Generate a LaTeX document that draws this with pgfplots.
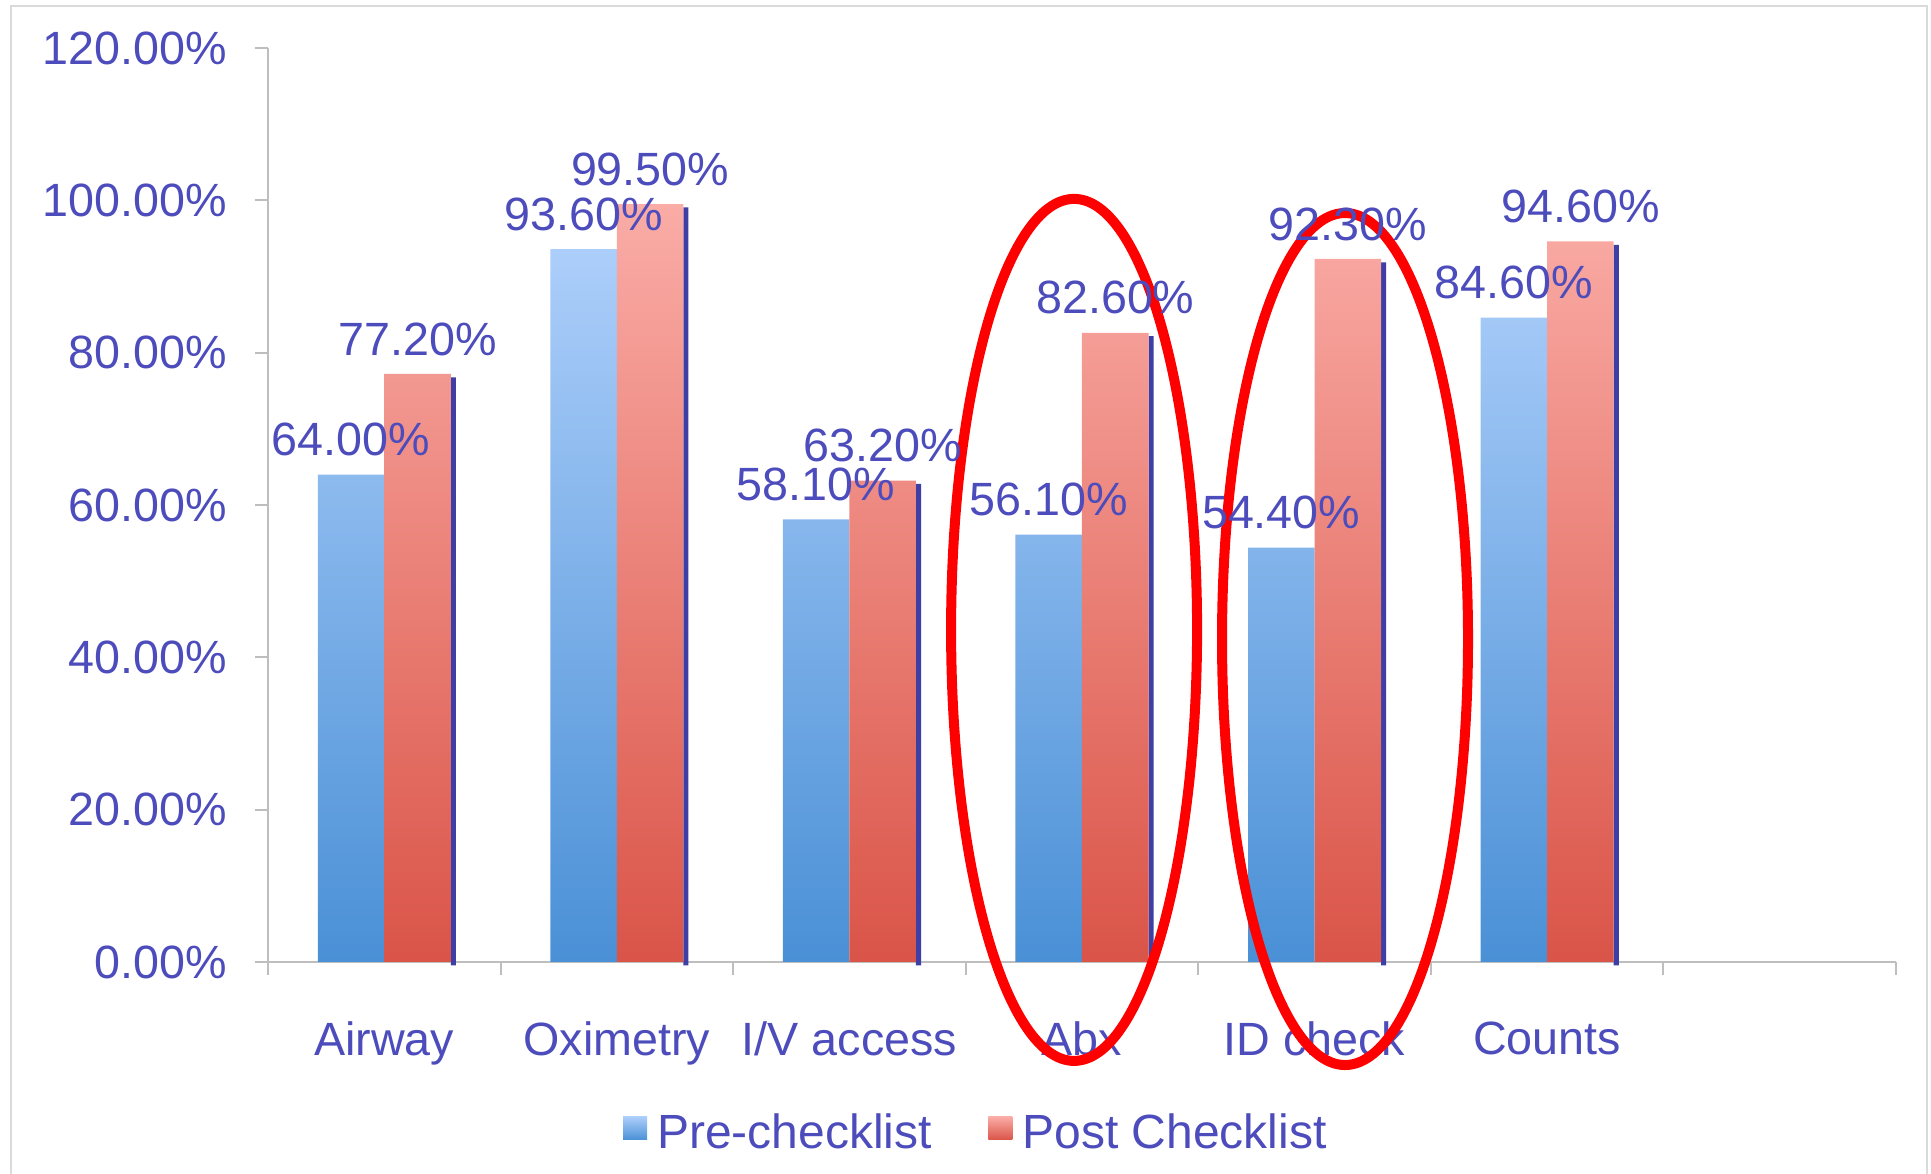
\documentclass[border=0pt]{standalone}
\usepackage{pgfplots}
\pgfplotsset{compat=1.18}
\usepackage{pgfplotstable}
\usepackage{fontspec}
\setmainfont{Liberation Sans}

\definecolor{labelblue}{RGB}{76,76,188}
\definecolor{axisgray}{RGB}{190,190,190}
\definecolor{framegray}{RGB}{218,218,218}
\definecolor{preTop}{RGB}{172,206,250}
\definecolor{preBot}{RGB}{74,144,214}
\definecolor{postTop}{RGB}{250,172,166}
\definecolor{postBot}{RGB}{218,84,72}
\definecolor{shadowblue}{RGB}{62,62,165}

% compliance rates (%) before and after the checklist
\pgfplotstableread{
x pre  post
0 64.0 77.2
1 93.6 99.5
2 58.1 63.2
3 56.1 82.6
4 54.4 92.3
5 84.6 94.6
}\ratetable

\newcommand{\lblfont}{\fontsize{14}{16}\selectfont}

\begin{document}
\begin{tikzpicture}
\useasboundingbox (0,0) rectangle (579.3pt,352.2pt);
\draw[framegray, line width=0.6pt] (3.3pt,-10pt) rectangle (578.1pt,350.4pt);
\begin{axis}[
  at={(80.4pt,63.6pt)}, anchor=south west,
  scale only axis, width=488.4pt, height=274.2pt,
  xmin=-0.5, xmax=6.5, ymin=0, ymax=120,
  axis x line*=bottom, axis y line*=left,
  axis line style={axisgray, line width=0.6pt, -},
  tick style={axisgray, line width=0.6pt},
  tick align=outside,
  major tick length=3.8pt,
  ytick={0,20,...,120},
  xtick={-0.5,0.5,...,6.5},
  xticklabels={},
  extra x ticks={0,1,2,3,4,5},
  extra x tick labels={Airway,Oximetry,I/V access,Abx,ID check,Counts},
  extra x tick style={major tick length=0pt, ticklabel style={yshift=-14.3pt}},
  /pgf/number format/assume math mode=true,
  yticklabel={\pgfmathprintnumber[fixed,fixed zerofill,precision=2]{\tick}\%},
  yticklabel style={xshift=-5pt},
  ticklabel style={font=\lblfont, text=labelblue},
  clip=false,
  legend columns=2,
  legend style={at={(0.4362,-0.188)}, anchor=center, draw=none, fill=none,
    font=\fontsize{14.4}{16}\selectfont, text=labelblue,
    /tikz/every odd column/.append style={column sep=1pt},
    /tikz/every even column/.append style={column sep=15pt}},
]
% pre-checklist bars
\addplot[ybar, bar width=0.286, bar shift=-0.143, draw=none,
  top color=preTop, bottom color=preBot,
  nodes near coords={\pgfmathprintnumber[fixed,fixed zerofill,precision=2]{\pgfplotspointmeta}\%},
  nodes near coords style={font=\lblfont, text=labelblue, yshift=2pt, xshift=-10pt},
  legend image code/.code={\shade[top color=preTop,bottom color=preBot] (0pt,-1.8pt) rectangle (7.2pt,5.1pt);}]
  table[x=x,y=pre]{\ratetable};
\addlegendentry{Pre-checklist}
% thin dark edge on the right of each post bar
\addplot[ybar, bar width=0.022, bar shift=0.297, draw=none, fill=shadowblue,
  forget plot, transform canvas={yshift=-1pt}]
  table[x=x,y=post]{\ratetable};
% post-checklist bars
\addplot[ybar, bar width=0.286, bar shift=0.143, draw=none,
  top color=postTop, bottom color=postBot,
  nodes near coords={\pgfmathprintnumber[fixed,fixed zerofill,precision=2]{\pgfplotspointmeta}\%},
  nodes near coords style={font=\lblfont, text=labelblue, yshift=2pt, xshift=10pt},
  legend image code/.code={\shade[top color=postTop,bottom color=postBot] (0pt,-1.8pt) rectangle (7.2pt,5.1pt);}]
  table[x=x,y=post]{\ratetable};
\addlegendentry{Post Checklist}
% highlighted categories
\draw[red, line width=3pt] (axis cs:2.966,43.6) ellipse [x radius=36.9pt, y radius=129.3pt];
\draw[red, line width=3pt] (axis cs:4.131,42.4) ellipse [x radius=36.9pt, y radius=127.8pt];
\end{axis}
\end{tikzpicture}
\end{document}
